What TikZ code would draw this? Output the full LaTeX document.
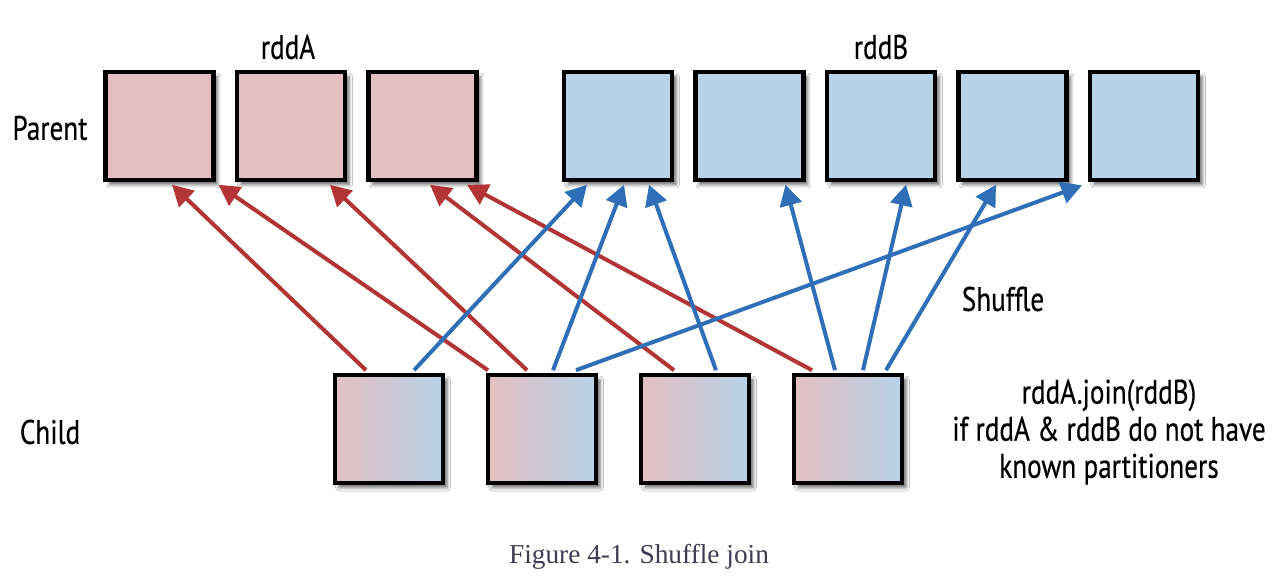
\documentclass[tikz,border=0pt]{standalone}
\usepackage{fontspec}
\setmainfont{Liberation Serif}
\newfontfamily\labelfont[FakeStretch=0.8,FakeBold=0.4]{PT Sans}
\usetikzlibrary{shadows.blur,calc,arrows.meta}
\definecolor{pinkfill}{HTML}{E4BFC1}
\definecolor{bluefill}{HTML}{B8D3E8}
\definecolor{redarrow}{HTML}{B23435}
\definecolor{bluearrow}{HTML}{2F6FB8}
\definecolor{captioncol}{HTML}{3F3D52}
\begin{document}
\begin{tikzpicture}[x=0.75pt,y=-0.75pt,
  box/.style={draw=black, line width=3.6pt, minimum width=81pt, minimum height=81pt, inner sep=0pt,
    blur shadow={shadow xshift=3pt, shadow yshift=-3.4pt, shadow blur radius=2.6pt, shadow opacity=60}},
  pbox/.style={box, fill=pinkfill},
  bbox/.style={box, fill=bluefill},
  cbox/.style={box, left color=pinkfill, right color=bluefill, shading angle=90},
  lbl/.style={font=\labelfont\fontsize{25.5}{27.8}\selectfont, inner sep=0pt, text=black},
  redline/.style={draw=redarrow, line width=3pt, -{Triangle[length=15.5pt,width=16.5pt]}},
  blueline/.style={draw=bluearrow, line width=3pt, -{Triangle[length=15.5pt,width=16.5pt]}}]
\path[use as bounding box, fill=white] (0,0) rectangle (1282,584);

% parent row
\node[pbox] (p1) at (159.5,126) {};
\node[pbox] (p2) at (291,126) {};
\node[pbox] (p3) at (422.5,126) {};
\node[bbox] (p4) at (618,126) {};
\node[bbox] (p5) at (749.5,126) {};
\node[bbox] (p6) at (881,126) {};
\node[bbox] (p7) at (1012.5,126) {};
\node[bbox] (p8) at (1144,126) {};

% child row
\node[cbox] (c1) at (389,429) {};
\node[cbox] (c2) at (542,429) {};
\node[cbox] (c3) at (695,429) {};
\node[cbox] (c4) at (848,429) {};

% labels
\node[lbl] (la) at (288,47) {rddA};
\node[lbl] (lb) at (881,47) {rddB};
\node[lbl] (lp) at (50,128) {Parent};
\node[lbl] (lc) at (50,432) {Child};
\node[lbl] (ls) at (1003,299) {Shuffle};
\node[lbl, align=center] (lj) at (1109,432) {rddA.join(rddB)\\if rddA \& rddB do not have\\known partitioners};
\node[font=\fontsize{20.5}{22}\selectfont, text=captioncol, inner sep=0pt] (cap) at (639,557) {Figure 4-1. Shuffle join};

% red arrows (rddA)
\draw[redline] ($(c1.north)+(-23,-2.4)$) -- ($(p1.south)+(12.5,2.4)$);
\draw[redline] ($(c2.north)+(-54,-2.4)$) -- ($(p1.south)+(59,2.4)$);
\draw[redline] ($(c2.north)+(-15,-2.4)$) -- ($(p2.south)+(39,2.4)$);
\draw[redline] ($(c3.north)+(-21,-2.4)$) -- ($(p3.south)+(7.5,2.4)$);
\draw[redline] ($(c4.north)+(-36,-2.4)$) -- ($(p3.south)+(44.5,2.4)$);

% blue arrows (rddB)
\draw[blueline] ($(c1.north)+(25,-2.4)$) -- ($(p4.south)+(-31,2.4)$);
\draw[blueline] ($(c2.north)+(11,-2.4)$) -- ($(p4.south)+(6,2.4)$);
\draw[blueline] ($(c2.north)+(34,-2.4)$) -- ($(p8.south)+(-62,3)$);
\draw[blueline] ($(c3.north)+(21,-2.4)$) -- ($(p4.south)+(31,2.4)$);
\draw[blueline] ($(c4.north)+(-13,-2.4)$) -- ($(p5.south)+(36,2.4)$);
\draw[blueline] ($(c4.north)+(15,-2.4)$) -- ($(p6.south)+(25,2.4)$);
\draw[blueline] ($(c4.north)+(38,-2.4)$) -- ($(p7.south)+(-16.5,2.4)$);
\end{tikzpicture}
\end{document}
